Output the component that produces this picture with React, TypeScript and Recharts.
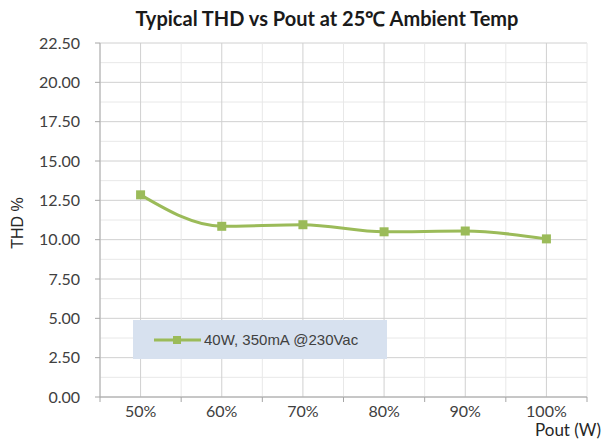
import React from 'react';
import { CartesianGrid, Label, Legend, Line, LineChart, XAxis, YAxis } from 'recharts';

const categories = ['50%', '60%', '70%', '80%', '90%', '100%'];
const thdValues = [12.85, 10.85, 10.95, 10.5, 10.55, 10.05];
// y ticks every 1.25: the even ones carry labels, the odd ones are minor gridlines
const yTicks = [0, 1.25, 2.5, 3.75, 5, 6.25, 7.5, 8.75, 10, 11.25, 12.5, 13.75, 15, 16.25, 17.5, 18.75, 20, 21.25, 22.5];
// x ticks every half category: integers are category centres, halves are boundaries
const xTicks = [-0.5, 0, 0.5, 1, 1.5, 2, 2.5, 3, 3.5, 4, 4.5, 5, 5.5];

const seriesName = '40W, 350mA @230Vac';
const green = '#9bbb59';
const axisGray = '#a6a6a6';
const majorGrid = '#d0d0d0';
const minorGrid = '#e8e8e8';

const data = categories.map((pout, i) => ({ idx: i, pout, thd: thdValues[i] }));

const SquareDot = (props: any) => {
  const { cx, cy, index } = props;
  if (cx == null || cy == null) return null;
  return <rect key={`dot-${index}`} x={cx - 4.5} y={cy - 4.5} width={9} height={9} fill={green} />;
};

const Y_TICK_SIZE = 5;
const Y_TICK_MARGIN = 15;
const YTick = (props: any) => {
  const { x, y, payload, index } = props;
  if (index % 2 !== 0) return null;
  const axisX = x + Y_TICK_MARGIN + Y_TICK_SIZE;
  return (
    <g>
      <line x1={axisX - Y_TICK_SIZE} x2={axisX} y1={y} y2={y} stroke={axisGray} />
      <text x={x} y={y} dy="0.36em" textAnchor="end" fill="#404040" fontSize={16} fontFamily="Lato, sans-serif">
        {Number(payload.value).toFixed(2)}
      </text>
    </g>
  );
};

const X_TICK_SIZE = 6;
const X_TICK_MARGIN = 3;
const XTick = (props: any) => {
  const { x, y, payload } = props;
  const v = Number(payload.value);
  const axisY = y - X_TICK_SIZE - X_TICK_MARGIN;
  if (!Number.isInteger(v)) {
    return <line x1={x} x2={x} y1={axisY} y2={axisY + 5} stroke={axisGray} />;
  }
  return (
    <text x={x} y={y} dy="0.71em" textAnchor="middle" fill="#404040" fontSize={16} fontFamily="Lato, sans-serif">
      {categories[v]}
    </text>
  );
};

const HLine = (props: any) => {
  const { x1, x2, y1, y2, index } = props;
  return <line key={`h-${index}`} x1={x1} x2={x2} y1={y1} y2={y2} stroke={index % 2 === 0 ? majorGrid : minorGrid} />;
};

const VLine = (props: any) => {
  const { x1, x2, y1, y2, index } = props;
  return <line key={`v-${index}`} x1={x1} x2={x2} y1={y1} y2={y2} stroke={index % 2 === 1 ? majorGrid : minorGrid} />;
};

const LegendBox = () => (
  <div
    style={{
      width: '100%',
      height: '100%',
      background: '#d7e1ef',
      display: 'flex',
      alignItems: 'center',
      fontFamily: 'Liberation Sans, Arial, sans-serif',
      fontSize: 15,
      color: '#404040',
    }}
  >
    <svg width={71} height={12} style={{ flex: 'none' }}>
      <line x1={21} y1={6} x2={68} y2={6} stroke={green} strokeWidth={3} />
      <rect x={40} y={2} width={8} height={8} fill={green} />
    </svg>
    <span>{seriesName}</span>
  </div>
);

export default function App() {
  return (
    <div style={{ position: 'absolute', left: 0, top: 0, width: 603, height: 447, background: '#fff' }}>
      <div
        style={{
          position: 'absolute',
          left: 0,
          width: 654,
          top: 5,
          textAlign: 'center',
          fontFamily: 'Lato, sans-serif',
          fontWeight: 'bold',
          fontSize: 20,
          color: '#1a1a1a',
        }}
      >
        Typical THD vs Pout at 25℃ Ambient Temp
      </div>
      <LineChart width={603} height={447} data={data} margin={{ top: 43, right: 16, bottom: 0, left: 0 }}>
        <CartesianGrid horizontal={<HLine />} vertical={<VLine />} />
        <YAxis
          type="number"
          domain={[0, 22.5]}
          ticks={yTicks}
          interval={0}
          width={100}
          tick={<YTick />}
          tickSize={Y_TICK_SIZE}
          tickMargin={Y_TICK_MARGIN}
          tickLine={false}
          axisLine={{ stroke: axisGray }}
        >
          <Label
            value="THD %"
            position="center"
            angle={-90}
            dx={-33}
            dy={3}
            style={{ fill: '#262626', fontSize: 16, fontFamily: 'Liberation Sans, Arial, sans-serif', textAnchor: 'middle' }}
          />
        </YAxis>
        <XAxis
          type="number"
          dataKey="idx"
          domain={[-0.5, 5.5]}
          ticks={xTicks}
          interval={0}
          height={50}
          tick={<XTick />}
          tickSize={X_TICK_SIZE}
          tickMargin={X_TICK_MARGIN}
          tickLine={false}
          axisLine={{ stroke: axisGray }}
        >
          <Label
            value="Pout (W)"
            position="insideBottomRight"
            offset={11}
            dx={25}
            style={{ fill: '#262626', fontSize: 17, fontFamily: 'Lato, sans-serif' }}
          />
        </XAxis>
        <Legend
          verticalAlign="middle"
          align="center"
          layout="horizontal"
          content={<LegendBox />}
          wrapperStyle={{ left: 133, top: 320, width: 254, height: 39 }}
        />
        <Line
          type="monotone"
          dataKey="thd"
          name={seriesName}
          stroke={green}
          strokeWidth={3}
          dot={<SquareDot />}
          activeDot={false}
          isAnimationActive={false}
        />
      </LineChart>
    </div>
  );
}
